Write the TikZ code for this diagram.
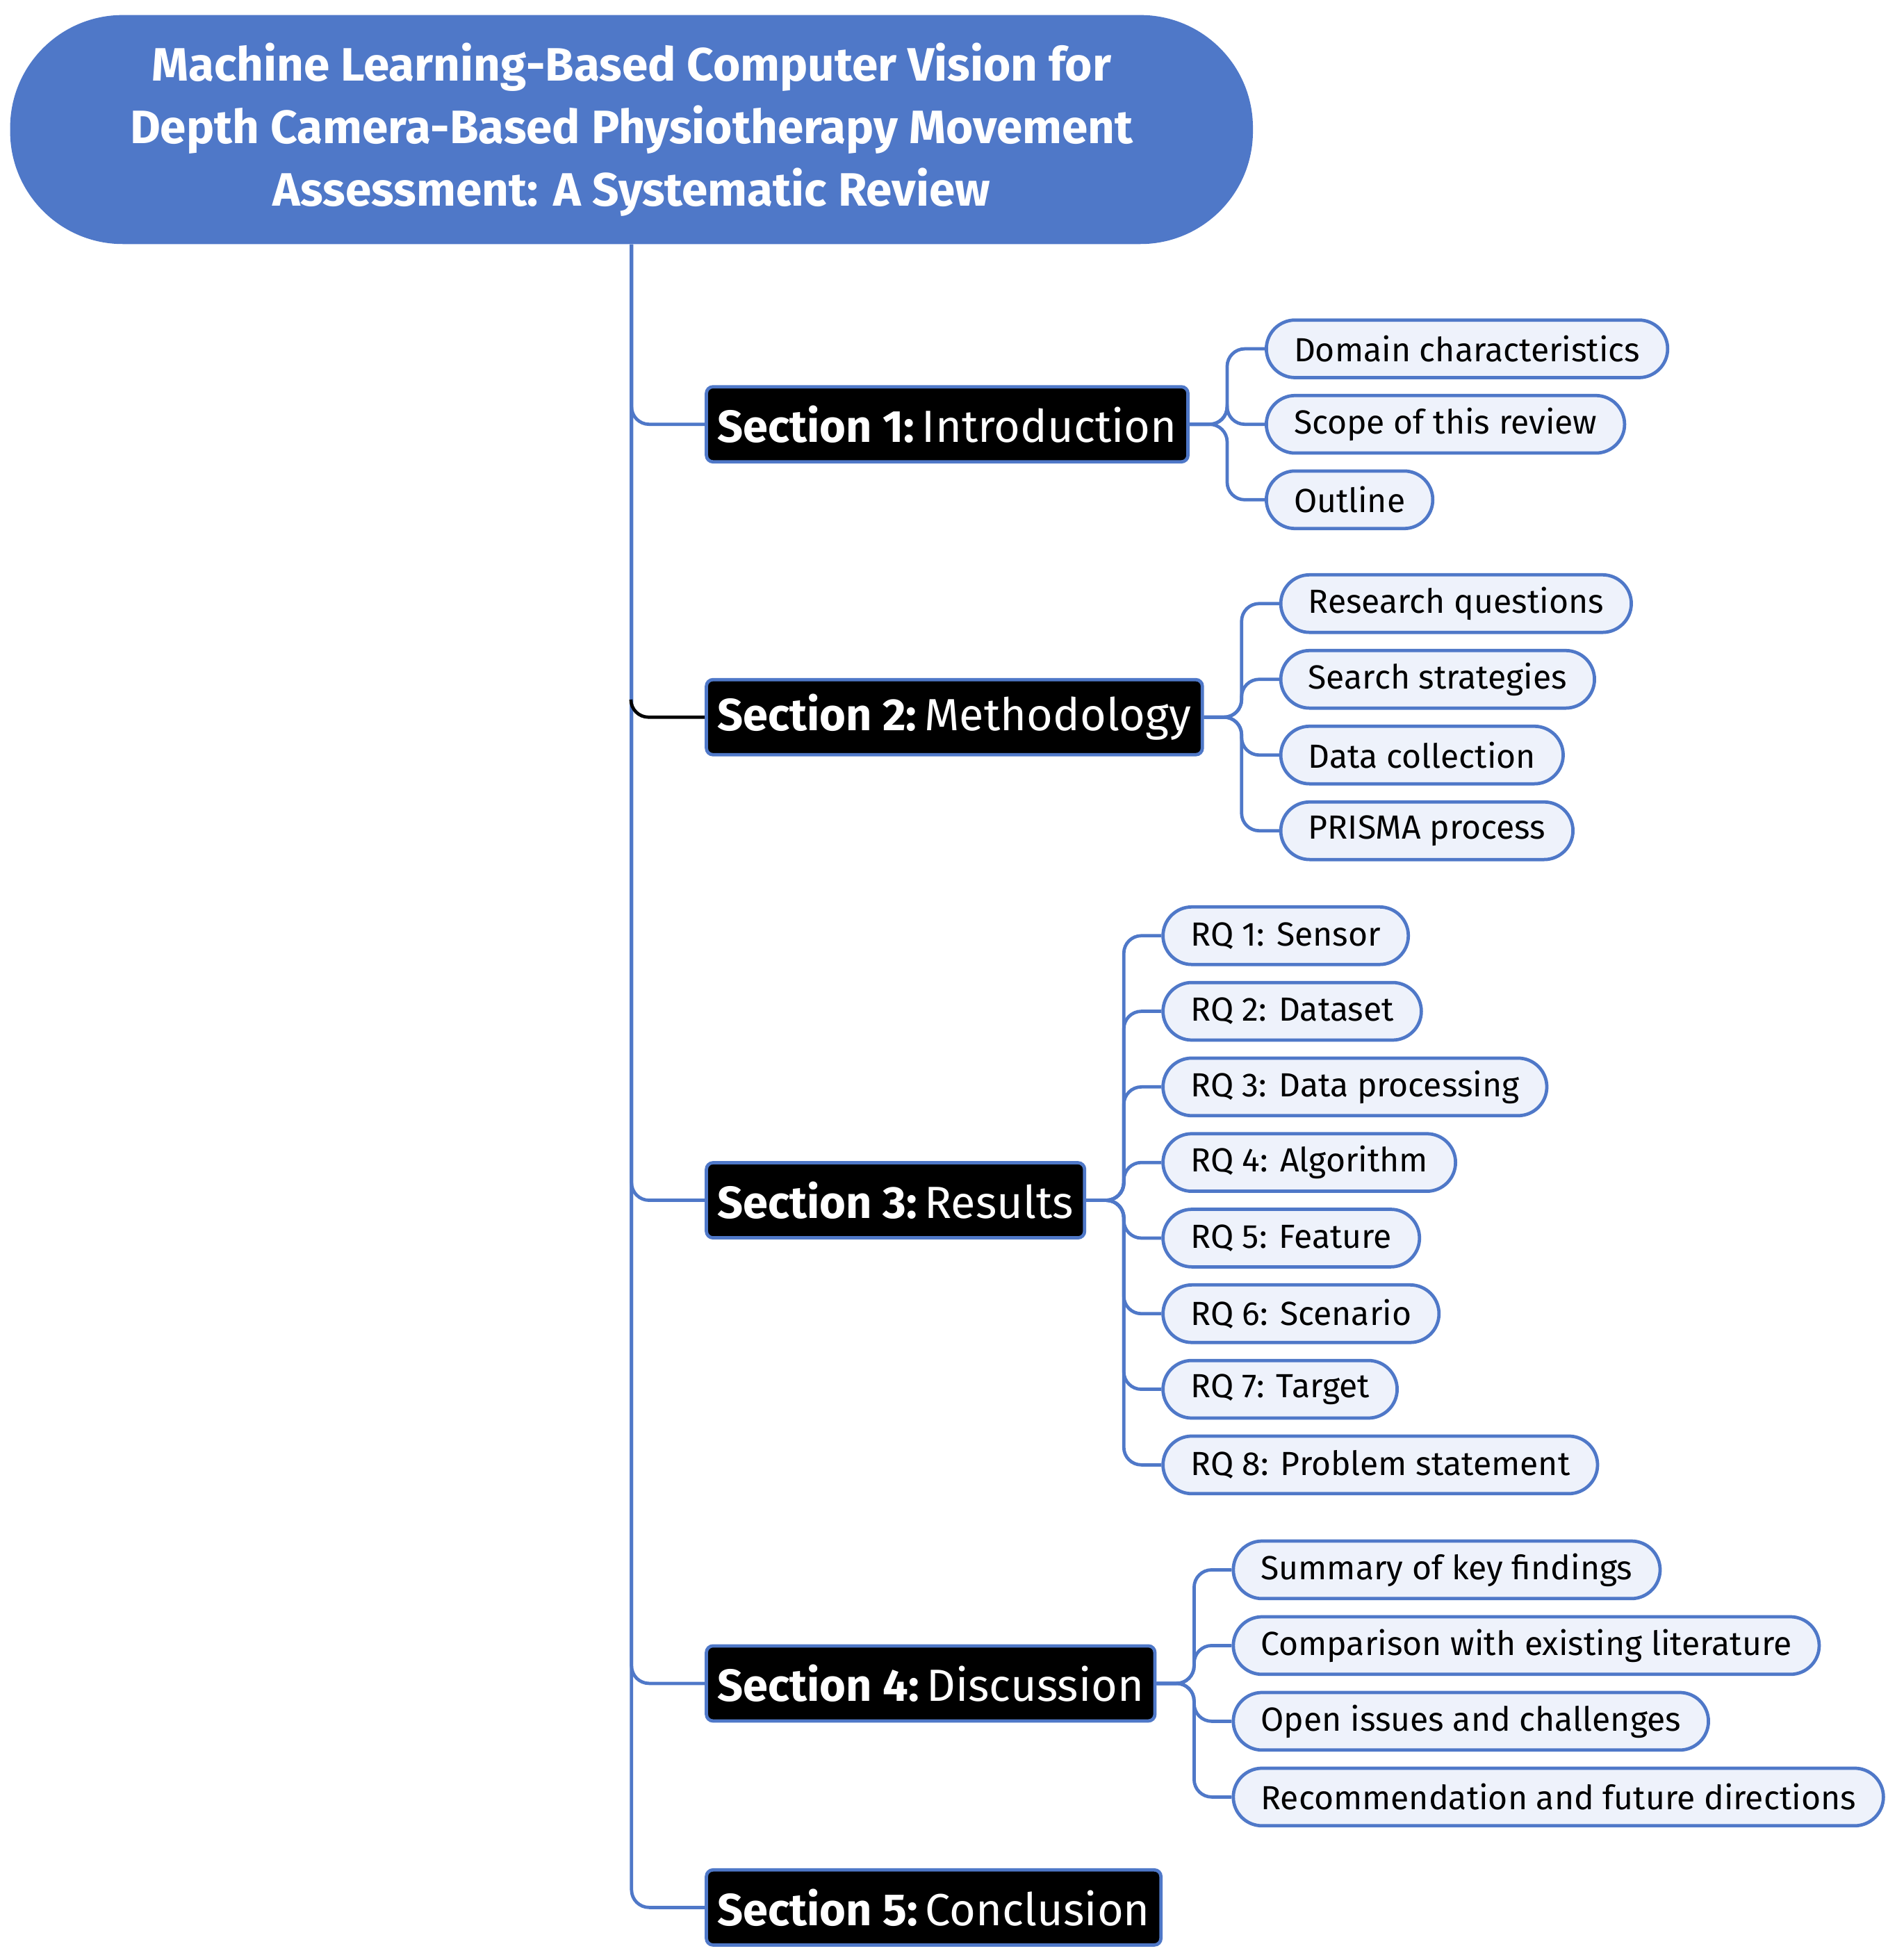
\documentclass[tikz,border=0pt]{standalone}
\usepackage{fontspec}
\setmainfont{Fira Sans}
\usetikzlibrary{calc,positioning}
\definecolor{mapblue}{HTML}{4F78C8}
\definecolor{leaffill}{HTML}{EEF2FB}
\tikzset{
  title/.style={fill=mapblue, text=white, rounded corners=1.8cm, minimum width=19.86cm,
    minimum height=3.66cm, align=center, font=\fontsize{21.3}{28.5}\selectfont\bfseries},
  sect/.style={fill=black, draw=mapblue, line width=1.5pt, rounded corners=3pt, text=white,
    anchor=west, minimum height=1.2cm, inner xsep=5pt, font=\fontsize{20.5}{24}\selectfont},
  leaf/.style={fill=leaffill, draw=mapblue, line width=1.5pt, rounded corners=0.46cm,
    anchor=west, minimum height=0.92cm, inner xsep=0.44cm, font=\fontsize{15.2}{18}\selectfont},
  conn/.style={draw=mapblue, line width=1.5pt, rounded corners=8pt},
}
\begin{document}
\begin{tikzpicture}[x=0.02cm, y=-0.02cm]
    \useasboundingbox (0,0) rectangle (1521,1566);
    \node[title] (title) at (504.5,103.5) {Machine Learning-Based Computer Vision for\\
      Depth Camera-Based Physiotherapy Movement\\ Assessment: A Systematic Review};

    % sections
    \node[sect] (s1) at (563,339) {\textbf{Section 1:}\,Introduction};
    \node[sect] (s2) at (563,573) {\textbf{Section 2:}\,Methodology};
    \node[sect] (s3) at (563,959) {\textbf{Section 3:}\,Results};
    \node[sect] (s4) at (563,1345) {\textbf{Section 4:}\,Discussion};
    \node[sect] (s5) at (563,1524) {\textbf{Section 5:}\,Conclusion};
    \foreach \s in {s1,s3,s4,s5}
      \draw[conn] (title.south) |- (\s.west);
    \draw[conn, draw=black] (504,560) |- (s2.west);

    % leaves
    \foreach \txt [count=\i] in {Domain characteristics, Scope of this review, Outline} {
      \node[leaf] (s1l\i) at ($(s1.east)+(60,{(\i-2)*60.3})$) {\txt};
      \draw[conn] (s1.east) -- ++(30,0) |- (s1l\i.west);
    }
    \foreach \txt [count=\i] in {Research questions, Search strategies, Data collection, PRISMA process} {
      \node[leaf] (s2l\i) at ($(s2.east)+(60,{(\i-2.5)*60.5})$) {\txt};
      \draw[conn] (s2.east) -- ++(30,0) |- (s2l\i.west);
    }
    \foreach \txt [count=\i] in {RQ 1: Sensor, RQ 2: Dataset, RQ 3: Data processing, RQ 4: Algorithm,
        RQ 5: Feature, RQ 6: Scenario, RQ 7: Target, RQ 8: Problem statement} {
      \node[leaf] (s3l\i) at ($(s3.east)+(60,{(\i-4.5)*60.4})$) {\txt};
      \draw[conn] (s3.east) -- ++(30,0) |- (s3l\i.west);
    }
    \foreach \txt [count=\i] in {Summary of key findings, Comparison with existing literature,
        Open issues and challenges, Recommendation and future directions} {
      \node[leaf] (s4l\i) at ($(s4.east)+(60,{(\i-2.5)*60.5})$) {\txt};
      \draw[conn] (s4.east) -- ++(30,0) |- (s4l\i.west);
    }
\end{tikzpicture}
\end{document}
